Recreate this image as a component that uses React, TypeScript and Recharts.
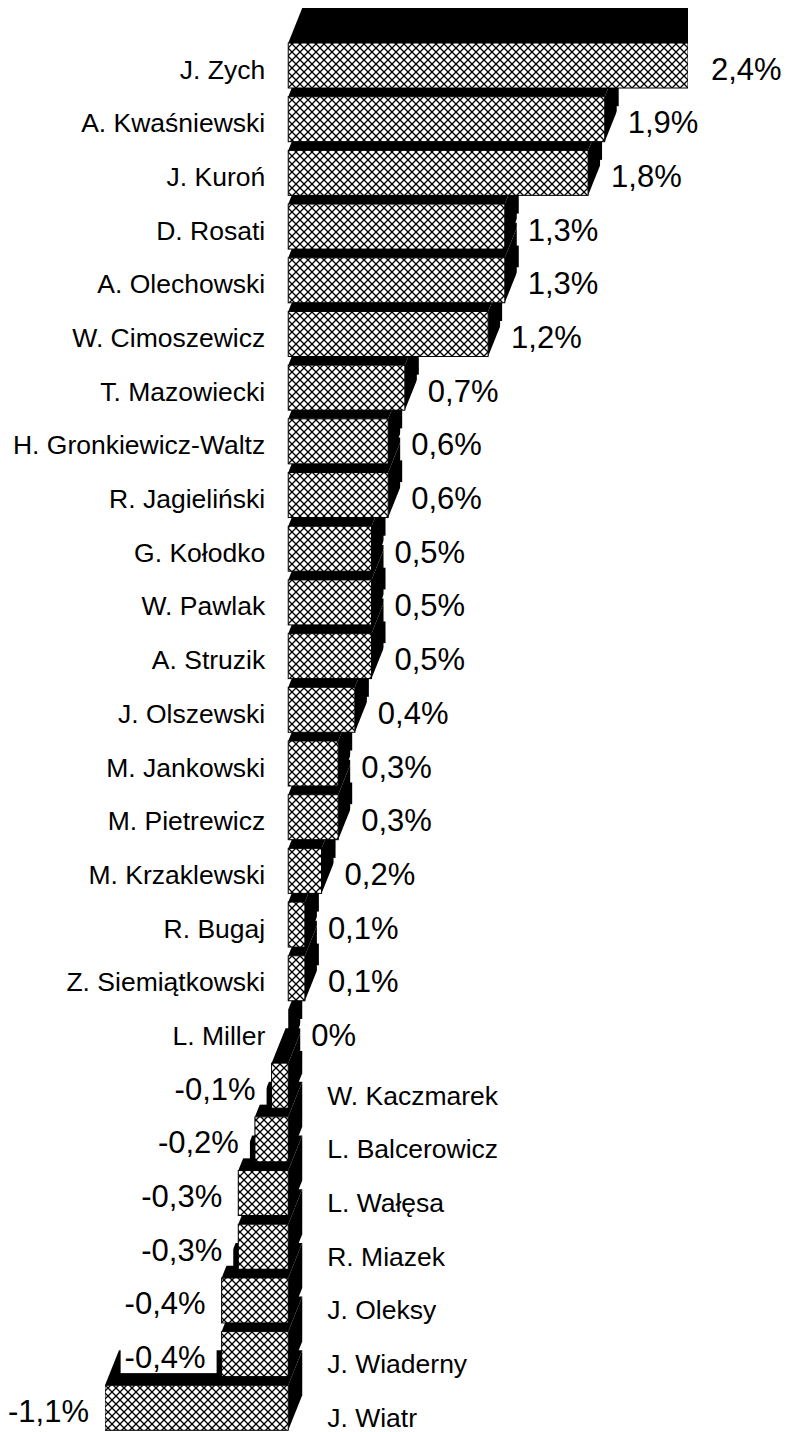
import React from "react";
import { BarChart, Bar, XAxis, YAxis, LabelList } from "recharts";

// kandydaci od góry do dołu
const NAMES = [
  "J. Zych",
  "A. Kwaśniewski",
  "J. Kuroń",
  "D. Rosati",
  "A. Olechowski",
  "W. Cimoszewicz",
  "T. Mazowiecki",
  "H. Gronkiewicz-Waltz",
  "R. Jagieliński",
  "G. Kołodko",
  "W. Pawlak",
  "A. Struzik",
  "J. Olszewski",
  "M. Jankowski",
  "M. Pietrewicz",
  "M. Krzaklewski",
  "R. Bugaj",
  "Z. Siemiątkowski",
  "L. Miller",
  "W. Kaczmarek",
  "L. Balcerowicz",
  "L. Wałęsa",
  "R. Miazek",
  "J. Oleksy",
  "J. Wiaderny",
  "J. Wiatr",
];

const VALUES = [
  2.4, 1.9, 1.8, 1.3, 1.3, 1.2, 0.7, 0.6, 0.6, 0.5, 0.5, 0.5, 0.4, 0.3, 0.3,
  0.2, 0.1, 0.1, 0, -0.1, -0.2, -0.3, -0.3, -0.4, -0.4, -1.1,
];

const X_DOMAIN = [-1.1, 2.4];

const W = 787;
const H = 1436;
const M = { top: 39, right: 99, bottom: 1, left: 105 };
const PLOT_W = W - M.left - M.right;
const ZERO_X = M.left + ((0 - X_DOMAIN[0]) / (X_DOMAIN[1] - X_DOMAIN[0])) * PLOT_W;

// głębokość efektu 3D
const DX = 14;
const DY = 35;

const FONT = "'Liberation Sans', Arial, Helvetica, sans-serif";
const CAT_SIZE = 26.5;
const VAL_SIZE = 31;

const VALUE_BY_NAME: Record<string, number> = {};
NAMES.forEach((n, i) => (VALUE_BY_NAME[n] = VALUES[i]));

// rysowane od dołu, żeby wyższe słupki przykrywały głębię niższych
const data = NAMES.map((name, i) => ({ name, value: VALUES[i] })).reverse();

const fmt = (v: number) => `${String(v).replace(".", ",")}%`;

const CHAR_W: Record<string, number> = { ",": 0.278, "%": 0.889, "-": 0.333 };
const textWidth = (s: string, size: number) =>
  s.split("").reduce((acc, c) => acc + (CHAR_W[c] ?? 0.556), 0) * size;

// eslint-disable-next-line @typescript-eslint/no-explicit-any
const Bar3D = (props: any) => {
  const { x, y, width, height } = props;
  const x0 = Math.min(x, x + width);
  const x1 = Math.max(x, x + width);
  const top = y;
  const bot = y + height;
  return (
    <g>
      <polygon
        points={`${x0},${top} ${x1},${top} ${x1 + DX},${top - DY} ${x0 + DX},${top - DY}`}
        fill="#000"
      />
      <polygon
        points={`${x1},${top} ${x1 + DX},${top - DY} ${x1 + DX},${bot - DY} ${x1},${bot}`}
        fill="#000"
      />
      {x1 - x0 > 0 && (
        <rect x={x0} y={top} width={x1 - x0} height={height} fill="url(#hatch)" stroke="#000" strokeWidth={1} />
      )}
    </g>
  );
};

// eslint-disable-next-line @typescript-eslint/no-explicit-any
const ValueLabel = (props: any) => {
  const { x, y, width, height, value } = props;
  const v = Number(value);
  const x0 = Math.min(x, x + width);
  const x1 = Math.max(x, x + width);
  const cy = y + height / 2 + 3;
  const text = fmt(v);
  const tw = textWidth(text, VAL_SIZE);
  const neg = v < 0;
  const tx = neg ? x0 - 16 : x1 + 23;
  const boxX = neg ? tx - tw - 4 : tx - 11;
  return (
    <g>
      <rect x={boxX} y={cy - 16} width={tw + 15} height={32} fill="#fff" />
      <text
        x={tx}
        y={cy + 11}
        textAnchor={neg ? "end" : "start"}
        fontFamily={FONT}
        fontSize={VAL_SIZE}
        fill="#000"
      >
        {text}
      </text>
    </g>
  );
};

// nazwy: dodatnie po lewej od osi, ujemne po prawej
// eslint-disable-next-line @typescript-eslint/no-explicit-any
const NameLabel = (props: any) => {
  const { y, height, value } = props;
  const v = VALUE_BY_NAME[value] ?? 0;
  const neg = v < 0;
  const cy = y + height / 2;
  return (
    <text
      x={neg ? ZERO_X + 39 : ZERO_X - 23}
      y={neg ? cy + 19 : cy + 13}
      textAnchor={neg ? "start" : "end"}
      fontFamily={FONT}
      fontSize={CAT_SIZE}
      fill="#000"
    >
      {value}
    </text>
  );
};

export default function App() {
  return (
    <div
      style={{
        position: "absolute",
        left: 0,
        top: 0,
        width: W,
        height: 1432,
        overflow: "hidden",
        background: "#fff",
      }}
    >
      <BarChart width={W} height={H} data={data} layout="vertical" margin={M}>
        <defs>
          <pattern id="hatch" patternUnits="userSpaceOnUse" width={8} height={8}>
            <rect width={8} height={8} fill="#fff" />
            <path d="M0,0 L8,8 M8,0 L0,8" stroke="#000" strokeWidth={1.3} />
          </pattern>
        </defs>
        <XAxis type="number" domain={X_DOMAIN} hide allowDataOverflow />
        <YAxis type="category" dataKey="name" reversed hide />
        <Bar dataKey="value" barSize={45} shape={<Bar3D />} isAnimationActive={false}>
          <LabelList dataKey="value" content={<ValueLabel />} />
          <LabelList dataKey="name" content={<NameLabel />} />
        </Bar>
      </BarChart>
    </div>
  );
}
